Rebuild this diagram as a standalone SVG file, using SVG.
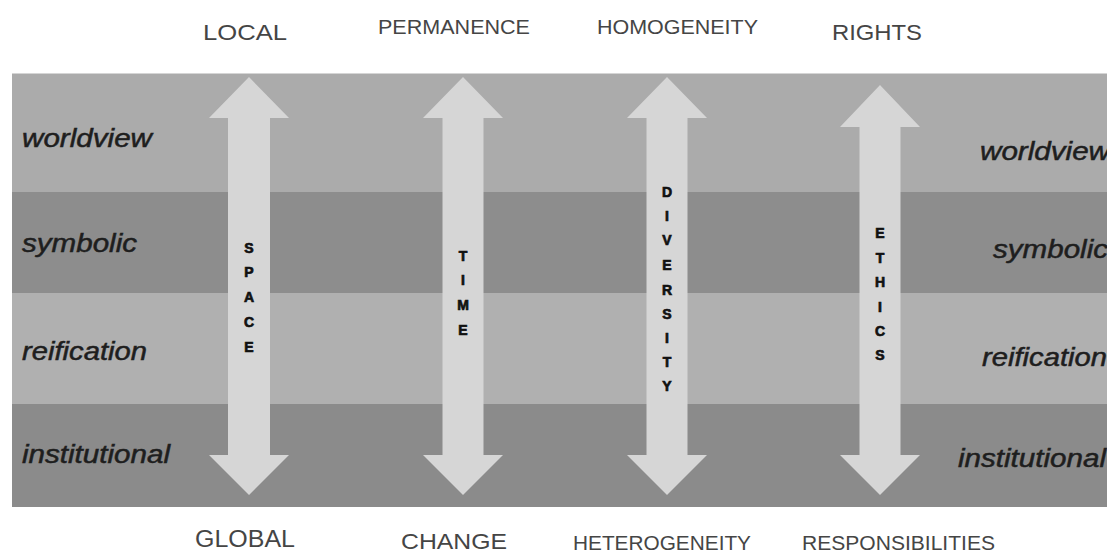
<svg xmlns="http://www.w3.org/2000/svg" width="1107" height="554" viewBox="0 0 1107 554">
<style>
.band-light{fill:#ababab}
.band-dark{fill:#8d8d8d}
.layer{font-family:"Liberation Sans",Arial,sans-serif;font-style:italic;font-size:25px;fill:#1e1e1e;stroke:#1e1e1e;stroke-width:0.5}
.arrow{fill:#d6d6d6}
.letter{font-family:"Liberation Sans",Arial,sans-serif;font-weight:bold;font-size:14px;fill:#111;stroke:#111;stroke-width:0.7;text-anchor:middle}
.pole{font-family:"Liberation Sans",Arial,sans-serif;fill:#454545}
</style>
<rect x="0" y="0" width="1107" height="554" fill="#ffffff"/>
<g id="layers">
  <g id="layer-worldview">
    <rect class="band-light" x="12" y="73.5" width="1095" height="118.5"/>
    <text class="layer" x="22" y="147" textLength="130" lengthAdjust="spacingAndGlyphs">worldview</text>
    <text class="layer" x="980" y="160" textLength="130" lengthAdjust="spacingAndGlyphs">worldview</text>
  </g>
  <g id="layer-symbolic">
    <rect class="band-dark" x="12" y="192" width="1095" height="101"/>
    <text class="layer" x="22" y="252" textLength="115" lengthAdjust="spacingAndGlyphs">symbolic</text>
    <text class="layer" x="993" y="258" textLength="115" lengthAdjust="spacingAndGlyphs">symbolic</text>
  </g>
  <g id="layer-reification">
    <rect x="12" y="293" width="1095" height="111" fill="#b0b0b0"/>
    <text class="layer" x="22" y="360" textLength="125" lengthAdjust="spacingAndGlyphs">reification</text>
    <text class="layer" x="982" y="366" textLength="125" lengthAdjust="spacingAndGlyphs">reification</text>
  </g>
  <g id="layer-institutional">
    <rect x="12" y="404" width="1095" height="103" fill="#8b8b8b"/>
    <text class="layer" x="22" y="463" textLength="148" lengthAdjust="spacingAndGlyphs">institutional</text>
    <text class="layer" x="958" y="467" textLength="148" lengthAdjust="spacingAndGlyphs">institutional</text>
  </g>
</g>
<g id="connectors">
  <polygon class="arrow" points="249,77 289,118 270,118 270,455 289,455 249,495 209,455 228,455 228,118 209,118"/>
  <polygon class="arrow" points="463,77 503,118 483.5,118 483.5,455 503,455 463,495 423,455 442.5,455 442.5,118 423,118"/>
  <polygon class="arrow" points="667,77 707,118 687.5,118 687.5,455 707,455 667,495 627,455 646.5,455 646.5,118 627,118"/>
  <polygon class="arrow" points="880,85 920,127 900.5,127 900.5,455 920,455 880,495 840,455 859.5,455 859.5,127 840,127"/>
</g>
<g id="axis-space">
  <text class="letter" x="249" y="253">S</text>
  <text class="letter" x="249" y="277">P</text>
  <text class="letter" x="249" y="302">A</text>
  <text class="letter" x="249" y="327">C</text>
  <text class="letter" x="249" y="352">E</text>
  <text class="pole" x="203" y="40" font-size="22" textLength="84" lengthAdjust="spacingAndGlyphs">LOCAL</text>
  <text class="pole" x="195" y="547" font-size="23" textLength="100" lengthAdjust="spacingAndGlyphs">GLOBAL</text>
</g>
<g id="axis-time">
  <text class="letter" x="463" y="261">T</text>
  <text class="letter" x="463" y="285">I</text>
  <text class="letter" x="463" y="310">M</text>
  <text class="letter" x="463" y="335">E</text>
  <text class="pole" x="378" y="34" font-size="21" textLength="152" lengthAdjust="spacingAndGlyphs">PERMANENCE</text>
  <text class="pole" x="401" y="549" font-size="22" textLength="106" lengthAdjust="spacingAndGlyphs">CHANGE</text>
</g>
<g id="axis-diversity">
  <text class="letter" x="667" y="197">D</text>
  <text class="letter" x="667" y="221">I</text>
  <text class="letter" x="667" y="245">V</text>
  <text class="letter" x="667" y="270">E</text>
  <text class="letter" x="667" y="295">R</text>
  <text class="letter" x="667" y="319">S</text>
  <text class="letter" x="667" y="343">I</text>
  <text class="letter" x="667" y="367">T</text>
  <text class="letter" x="667" y="391">Y</text>
  <text class="pole" x="597" y="34" font-size="21" textLength="161" lengthAdjust="spacingAndGlyphs">HOMOGENEITY</text>
  <text class="pole" x="573" y="550" font-size="20" textLength="178" lengthAdjust="spacingAndGlyphs">HETEROGENEITY</text>
</g>
<g id="axis-ethics">
  <text class="letter" x="880" y="238">E</text>
  <text class="letter" x="880" y="263">T</text>
  <text class="letter" x="880" y="287">H</text>
  <text class="letter" x="880" y="312">I</text>
  <text class="letter" x="880" y="336">C</text>
  <text class="letter" x="880" y="360">S</text>
  <text class="pole" x="832" y="40" font-size="22" textLength="90" lengthAdjust="spacingAndGlyphs">RIGHTS</text>
  <text class="pole" x="802" y="550" font-size="20" textLength="193" lengthAdjust="spacingAndGlyphs">RESPONSIBILITIES</text>
</g>
</svg>
